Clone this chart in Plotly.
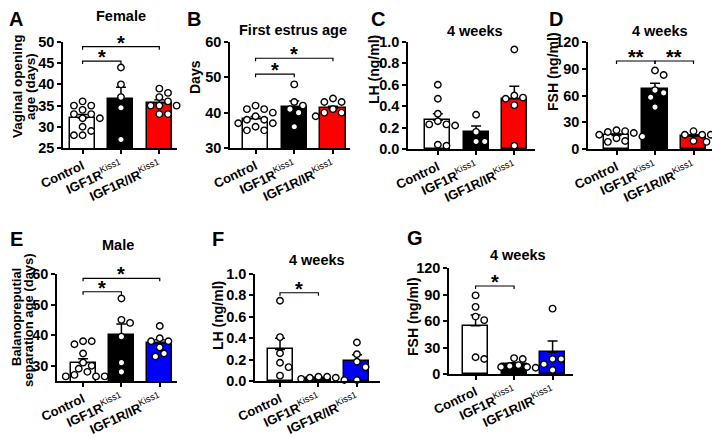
import numpy as np
import plotly.graph_objects as go

# the page body has an 8px margin, so the figure is sized to the visible area
OX, OY = 8, 8
FW, FH = 712, 430
FONT = "Arial, Liberation Sans, sans-serif"

groups = ["Control", "IGF1R", "IGF1R/IR"]
ticklabels = ["<b>Control</b>", "<b>IGF1R</b><sup>Kiss1</sup>", "<b>IGF1R/IR</b><sup>Kiss1</sup>"]

# female - vaginal opening age (days)
vo_ctrl = [36, 35, 35, 34, 33, 33, 32, 32, 30, 29, 28, 28]
vo_igf1r = [44, 40, 37, 34.5, 27]
vo_dko = [39, 38, 37, 36, 35, 35, 35, 33, 33]

# female - first estrus age (days)
fe_ctrl = [42, 41, 41, 40, 39, 38, 38, 37, 37, 36, 35, 35]
fe_igf1r = [48, 43, 42, 41, 40, 36]
fe_dko = [44, 43, 43, 42, 41, 40, 40, 39, 39]

# female LH at 4 weeks (ng/ml)
flh_ctrl = [0.60, 0.47, 0.33, 0.26, 0.23, 0.23, 0.22, 0.04, 0.03]
flh_igf1r = [0.32, 0.16, 0.07, 0.07]
flh_dko = [0.93, 0.50, 0.48, 0.47, 0.41, 0.03]

# female FSH at 4 weeks (ng/ml)
ffsh_ctrl = [21, 20, 19, 18, 16, 14, 12, 9, 8]
ffsh_igf1r = [88, 83, 66, 63, 58, 47]
ffsh_dko = [20, 16, 16, 16, 9, 8]

# male - balanopreputial separation age (days)
bps_ctrl = [38, 38, 37, 34, 31, 30, 29, 28, 27, 26.5, 26.5, 26.5]
bps_igf1r = [52, 45, 44, 39.5, 31, 28]
bps_dko = [43, 39, 38, 38, 38, 36, 34, 33]

# male LH at 4 weeks (ng/ml)
mlh_ctrl = [0.75, 0.41, 0.26, 0.17, 0.13, 0.05]
mlh_igf1r = [0.04, 0.04, 0.03, 0.03, 0.02, 0.01]
mlh_dko = [0.36, 0.25, 0.18, 0.13, 0.01]

# male FSH at 4 weeks (ng/ml)
mfsh_ctrl = [89, 76, 65, 61, 19, 17]
mfsh_igf1r = [18, 17, 10, 9, 8, 8, 7]
mfsh_dko = [74, 17, 17, 11, 4.5]

RED = ["white", "black", "#ff0000"]
BLUE = ["white", "black", "#0000ff"]

# geometry in window pixels: box = (x left, x right, y top, y bottom)
panels = [
    dict(letter="A", lpos=(16, 19), title="Female", tpos=(121, 16),
         ytitle=[("Vaginal opening", 17, 86), ("age (days)", 30, 87)], ytsize=13.5,
         data=(vo_ctrl, vo_igf1r, vo_dko), colors=RED,
         box=(63, 177, 42, 148), xr=[-0.51, 2.46], yr=[25, 50],
         yt=[25, 30, 35, 40, 45, 50], fmt="d",
         sig=[(0, 1, 45.5, "*"), (0, 2, 48.9, "*")]),
    dict(letter="B", lpos=(194, 19), title="First estrus age", tpos=(293, 30),
         ytitle=[("Days", 195, 77)], ytsize=14,
         data=(fe_ctrl, fe_igf1r, fe_dko), colors=RED,
         box=(230, 350, 42, 148), xr=[-0.66, 2.44], yr=[30, 60],
         yt=[30, 40, 50, 60], fmt="d",
         sig=[(0, 1, 50.9, "*"), (0, 2, 55.4, "*")]),
    dict(letter="C", lpos=(378, 19), title="4 weeks", tpos=(475, 31),
         ytitle=[("LH (ng/ml)", 374, 70)], ytsize=14,
         data=(flh_ctrl, flh_igf1r, flh_dko), colors=RED,
         box=(408, 535, 42, 149), xr=[-0.78, 2.54], yr=[0, 1],
         yt=[0, 0.2, 0.4, 0.6, 0.8, 1.0], fmt=".1f", sig=[]),
    dict(letter="D", lpos=(556, 19), title="4 weeks", tpos=(660, 31),
         ytitle=[("FSH (ng/ml)", 553, 72)], ytsize=14,
         data=(ffsh_ctrl, ffsh_igf1r, ffsh_dko), colors=RED,
         box=(588, 717, 42, 149), xr=[-0.74, 2.61], yr=[0, 120],
         yt=[0, 30, 60, 90, 120], fmt="d",
         sig=[(0, 1, 98.7, "**"), (1, 2, 98.7, "**")]),
    dict(letter="E", lpos=(16, 239), title="Male", tpos=(118, 245),
         ytitle=[("Balanopreputial", 16, 317), ("separation age (days)", 28, 320)], ytsize=13,
         data=(bps_ctrl, bps_igf1r, bps_dko), colors=BLUE,
         box=(57, 177, 274, 381), xr=[-0.68, 2.45], yr=[25, 60],
         yt=[30, 40, 50, 60], fmt="d",
         sig=[(0, 1, 54.2, "*"), (0, 2, 58.6, "*")]),
    dict(letter="F", lpos=(218, 239), title="4 weeks", tpos=(317, 260),
         ytitle=[("LH (ng/ml)", 218, 316)], ytsize=14,
         data=(mlh_ctrl, mlh_igf1r, mlh_dko), colors=BLUE,
         box=(255, 380, 274, 381), xr=[-0.65, 2.6], yr=[0, 1],
         yt=[0, 0.2, 0.4, 0.6, 0.8, 1.0], fmt=".1f",
         sig=[(0, 1, 0.825, "*")]),
    dict(letter="G", lpos=(415, 238), title="4 weeks", tpos=(518, 255),
         ytitle=[("FSH (ng/ml)", 413, 317)], ytsize=14,
         data=(mfsh_ctrl, mfsh_igf1r, mfsh_dko), colors=BLUE,
         box=(449, 573, 268, 374), xr=[-0.69, 2.53], yr=[0, 120],
         yt=[0, 30, 60, 90, 120], fmt="d",
         sig=[(0, 1, 99.6, "*")]),
]


def px_x(px):
    return (px - OX) / FW


def px_y(py):
    return 1 - (py - OY) / FH


def swarm(vals, ppu_x, ppu_y, d=7.2):
    # simple beeswarm: push points sideways until they stop overlapping
    vals = np.asarray(vals, float)
    xs = np.zeros(len(vals))
    placed = []
    step = d * 0.6
    for i in np.argsort(-vals):
        y = vals[i] * ppu_y
        for k in range(40):
            off = ((k + 1) // 2) * step * (1 if k % 2 else -1)
            if all((off - px) ** 2 + (y - py) ** 2 >= d * d for px, py in placed):
                break
        placed.append((off, y))
        xs[i] = off / ppu_x
    return xs


def label(x, y, text, size, **kw):
    return dict(xref="paper", yref="paper", x=px_x(x), y=px_y(y), text=f"<b>{text}</b>",
                showarrow=False, xanchor="center", yanchor="middle",
                font=dict(family=FONT, size=size, color="black"), **kw)


fig = go.Figure()
annotations = []
shapes = []

for n, p in enumerate(panels, 1):
    xa = "x" if n == 1 else f"x{n}"
    ya = "y" if n == 1 else f"y{n}"
    x0, x1, yt, yb = p["box"]
    ppu_x = (x1 - x0) / (p["xr"][1] - p["xr"][0])
    ppu_y = (yb - yt) / (p["yr"][1] - p["yr"][0])

    means = [np.mean(v) for v in p["data"]]
    sems = [np.std(v, ddof=1) / np.sqrt(len(v)) for v in p["data"]]

    fig.add_trace(go.Bar(
        x=[0, 1, 2], y=means, xaxis=xa, yaxis=ya, width=0.65,
        marker=dict(color=p["colors"], line=dict(color="black", width=1.5)),
        error_y=dict(type="data", array=sems, arrayminus=[0, 0, 0], symmetric=False,
                     color="black", thickness=1.5, width=5),
        showlegend=False, hoverinfo="skip"))

    for g, vals in enumerate(p["data"]):
        fig.add_trace(go.Scatter(
            x=g + swarm(vals, ppu_x, ppu_y), y=vals, xaxis=xa, yaxis=ya,
            mode="markers", cliponaxis=False, showlegend=False,
            marker=dict(symbol="circle", size=6.5, color="white",
                        line=dict(color="black", width=1.4))))

    fig.layout[f"xaxis{'' if n == 1 else n}"] = dict(
        domain=[px_x(x0), px_x(x1)], range=p["xr"], anchor=ya, automargin=False,
        showline=True, linecolor="black", linewidth=1.5,
        ticks="outside", ticklen=4, tickwidth=1.5, tickcolor="black",
        tickvals=[0, 1, 2], ticktext=ticklabels, tickangle=-25,
        tickfont=dict(family=FONT, size=13, color="black"),
        showgrid=False, zeroline=False, fixedrange=True)
    fig.layout[f"yaxis{'' if n == 1 else n}"] = dict(
        domain=[px_y(yb), px_y(yt)], range=p["yr"], anchor=xa, automargin=False,
        showline=True, linecolor="black", linewidth=1.5,
        ticks="outside", ticklen=4, tickwidth=1.5, tickcolor="black",
        tickvals=p["yt"], tickformat=p["fmt"],
        tickfont=dict(family=FONT, size=14.5, color="black", weight="bold"),
        showgrid=False, zeroline=False, fixedrange=True)

    # significance brackets
    tick = 3 / ppu_y
    for a, b, yv, star in p["sig"]:
        shapes.append(dict(type="path", xref=xa, yref=ya,
                           path=f"M {a},{yv - tick} L {a},{yv} L {b},{yv} L {b},{yv - tick}",
                           line=dict(color="black", width=1.2)))
        annotations.append(dict(xref=xa, yref=ya, x=(a + b) / 2, y=yv, text=f"<b>{star}</b>",
                                showarrow=False, yanchor="bottom", yshift=-9,
                                font=dict(family=FONT, size=20, color="black")))

    annotations.append(label(*p["lpos"], p["letter"], 20))
    annotations.append(label(*p["tpos"], p["title"], 14.5))
    for text, tx, ty in p["ytitle"]:
        annotations.append(label(tx, ty, text, p["ytsize"], textangle=-90))

fig.update_layout(
    width=FW, height=FH, margin=dict(l=0, r=0, t=0, b=0, autoexpand=False),
    paper_bgcolor="white", plot_bgcolor="white",
    annotations=annotations, shapes=shapes, bargap=0)

fig.write_html("out.html")
